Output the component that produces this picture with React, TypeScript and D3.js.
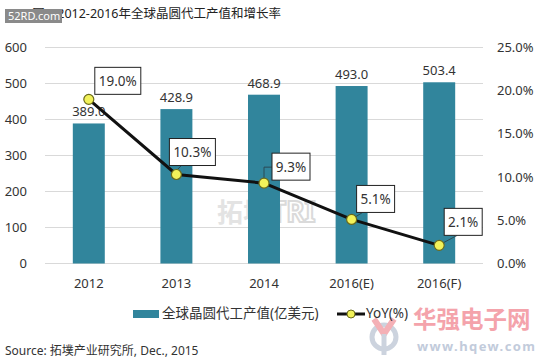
import React from "react";
import * as d3 from "d3";

const categories = ["2012", "2013", "2014", "2016(E)", "2016(F)"];
const revenue = [389.0, 428.9, 468.9, 493.0, 503.4];
const yoy = [19.0, 10.3, 9.3, 5.1, 2.1];
const leftTicks = [0, 100, 200, 300, 400, 500, 600];
const rightTicks = [0, 5, 10, 15, 20, 25];

// label box placement relative to each point (layout only)
const boxOffsets = [
  { dx: 6, dy: -32 },
  { dx: -7, dy: -36 },
  { dx: 8, dy: -30 },
  { dx: 5, dy: -34 },
  { dx: 5, dy: -37 },
];

const FONT = "'Noto Sans', 'Noto Sans CJK SC', sans-serif";
const TXT = "#333";

export default function App() {
  const W = 544, H = 359;
  const x0 = 45, x1 = 483, yTop = 47.5, yBot = 263.5;
  const x = d3.scaleBand<string>().domain(categories).range([x0, x1]).paddingInner(0.635).paddingOuter(0.3175);
  const yL = d3.scaleLinear().domain([0, 600]).range([yBot, yTop]);
  const yR = d3.scaleLinear().domain([0, 25]).range([yBot, yTop]);
  const cx = (c: string) => (x(c) as number) + x.bandwidth() / 2;
  const pts: [number, number][] = categories.map((c, i) => [cx(c), yR(yoy[i])]);
  const line = d3.line();

  return (
    <svg width={W} height={H} style={{ position: "fixed", left: 0, top: 0, background: "#fff" }} fontFamily={FONT}>
      <rect width={W} height={H} fill="#fff" />
      {/* title */}
      <text x={281} y={18} textAnchor="end" fontSize={12.5} fill="#222">图：2012-2016年全球晶圆代工产值和增长率</text>
      <rect x={5} y={9} width={57} height={14} fill="#8a8a8a" />
      <text x={8} y={20} fontSize={11} fill="#fff">52RD.com</text>

      {/* gridlines */}
      {leftTicks.map((t) => (
        <line key={t} x1={x0} x2={x1} y1={yL(t)} y2={yL(t)} stroke="#d9d9d9" strokeWidth={1} />
      ))}
      {leftTicks.map((t) => (
        <text key={"l" + t} x={27} y={yL(t) + 4.5} textAnchor="end" fontSize={13} fill={TXT}>{t}</text>
      ))}
      {rightTicks.map((t) => (
        <text key={"r" + t} x={497} y={yR(t) + 4.5} fontSize={13} fill={TXT}>{t.toFixed(1) + "%"}</text>
      ))}

      {/* watermark TRI */}
      <text x={217} y={222} fontSize={26} fontWeight="bold" fill="#e3e3e3">拓墣</text>
      <text x={270} y={222} fontSize={28} fontWeight="bold" fill="#fff" stroke="#dadada" strokeWidth={2}>TRI</text>

      {/* bars */}
      {categories.map((c, i) => (
        <rect key={c} x={x(c)} y={yL(revenue[i])} width={x.bandwidth()} height={yBot - yL(revenue[i])} fill="#31859c" />
      ))}
      {categories.map((c, i) => (
        <text key={"v" + c} x={cx(c)} y={yL(revenue[i]) - 7} textAnchor="middle" fontSize={13} fill={TXT}>{revenue[i].toFixed(1)}</text>
      ))}

      {categories.map((c) => (
        <text key={"x" + c} x={cx(c)} y={288} textAnchor="middle" fontSize={13} fill={TXT}>{c}</text>
      ))}

      {/* line */}
      <path d={line(pts) || ""} fill="none" stroke="#111" strokeWidth={3} strokeLinejoin="round" />

      {pts.map(([px, py], i) => {
        const o = boxOffsets[i];
        const label = yoy[i].toFixed(1) + "%";
        const bw = label.length >= 5 ? 46 : 38;
        const bx = px + o.dx, by = py + o.dy, bh = 27;
        let leader: string;
        if (i === 2) leader = `M${px},${py - 5}V${by + 14}H${bx}`;
        else if (i === 0) leader = "";
        else if (i === 1) leader = `M${px},${py - 4}L${px + 5},${by + bh}`;
        else if (i === 4) leader = `M${px + 3},${py - 2}L${bx + 13},${by + bh}`;
        else leader = `M${px + 3},${py - 2}L${bx + 6},${by + bh}`;
        return (
          <g key={"b" + i}>
            {leader && <path d={leader} fill="none" stroke="#2b4a55" strokeWidth={1} />}
            <rect x={bx} y={by} width={bw} height={bh} fill="#fff" stroke="#222" strokeWidth={1} />
            <text x={bx + bw / 2} y={by + bh / 2 + 5} textAnchor="middle" fontSize={13.5} fill={TXT}>{label}</text>
          </g>
        );
      })}
      {pts.map(([px, py], i) => (
        <circle key={"c" + i} cx={px} cy={py} r={5} fill="#f2f25a" stroke="#6a6a1c" strokeWidth={1.2} />
      ))}

      {/* bottom-right watermark (behind legend) */}
      <circle cx={384} cy={337} r={12} fill="none" stroke="#ccd3de" strokeWidth={5} />
      <path d="M374,319 L384,334 L394,319" fill="none" stroke="#f4b0b6" strokeWidth={6} />
      <line x1={384} x2={384} y1={334} y2={355} stroke="#ccd3de" strokeWidth={5} />
      <text x={413} y={328} fontSize={23.5} fontWeight="bold" fill="#f4a3ab">华强电子网</text>
      <text x={417} y={351} fontSize={13} fontWeight="bold" fill="#c2cbdb" textLength={118}>www.hqew.com</text>

      {/* legend */}
      <rect x={133} y={310} width={26} height={8} fill="#31859c" />
      <text x={162} y={318} fontSize={13.5} fill={TXT}>全球晶圆代工产值(亿美元)</text>
      <line x1={337} x2={365} y1={314} y2={314} stroke="#111" strokeWidth={3} />
      <circle cx={351} cy={314} r={4} fill="#f2f25a" stroke="#6a6a1c" strokeWidth={1} />
      <text x={366} y={318} fontSize={13.5} fill={TXT}>YoY(%)</text>

      <text x={5} y={355} fontSize={12} fill={TXT}>Source: 拓墣产业研究所, Dec., 2015</text>
    </svg>
  );
}
